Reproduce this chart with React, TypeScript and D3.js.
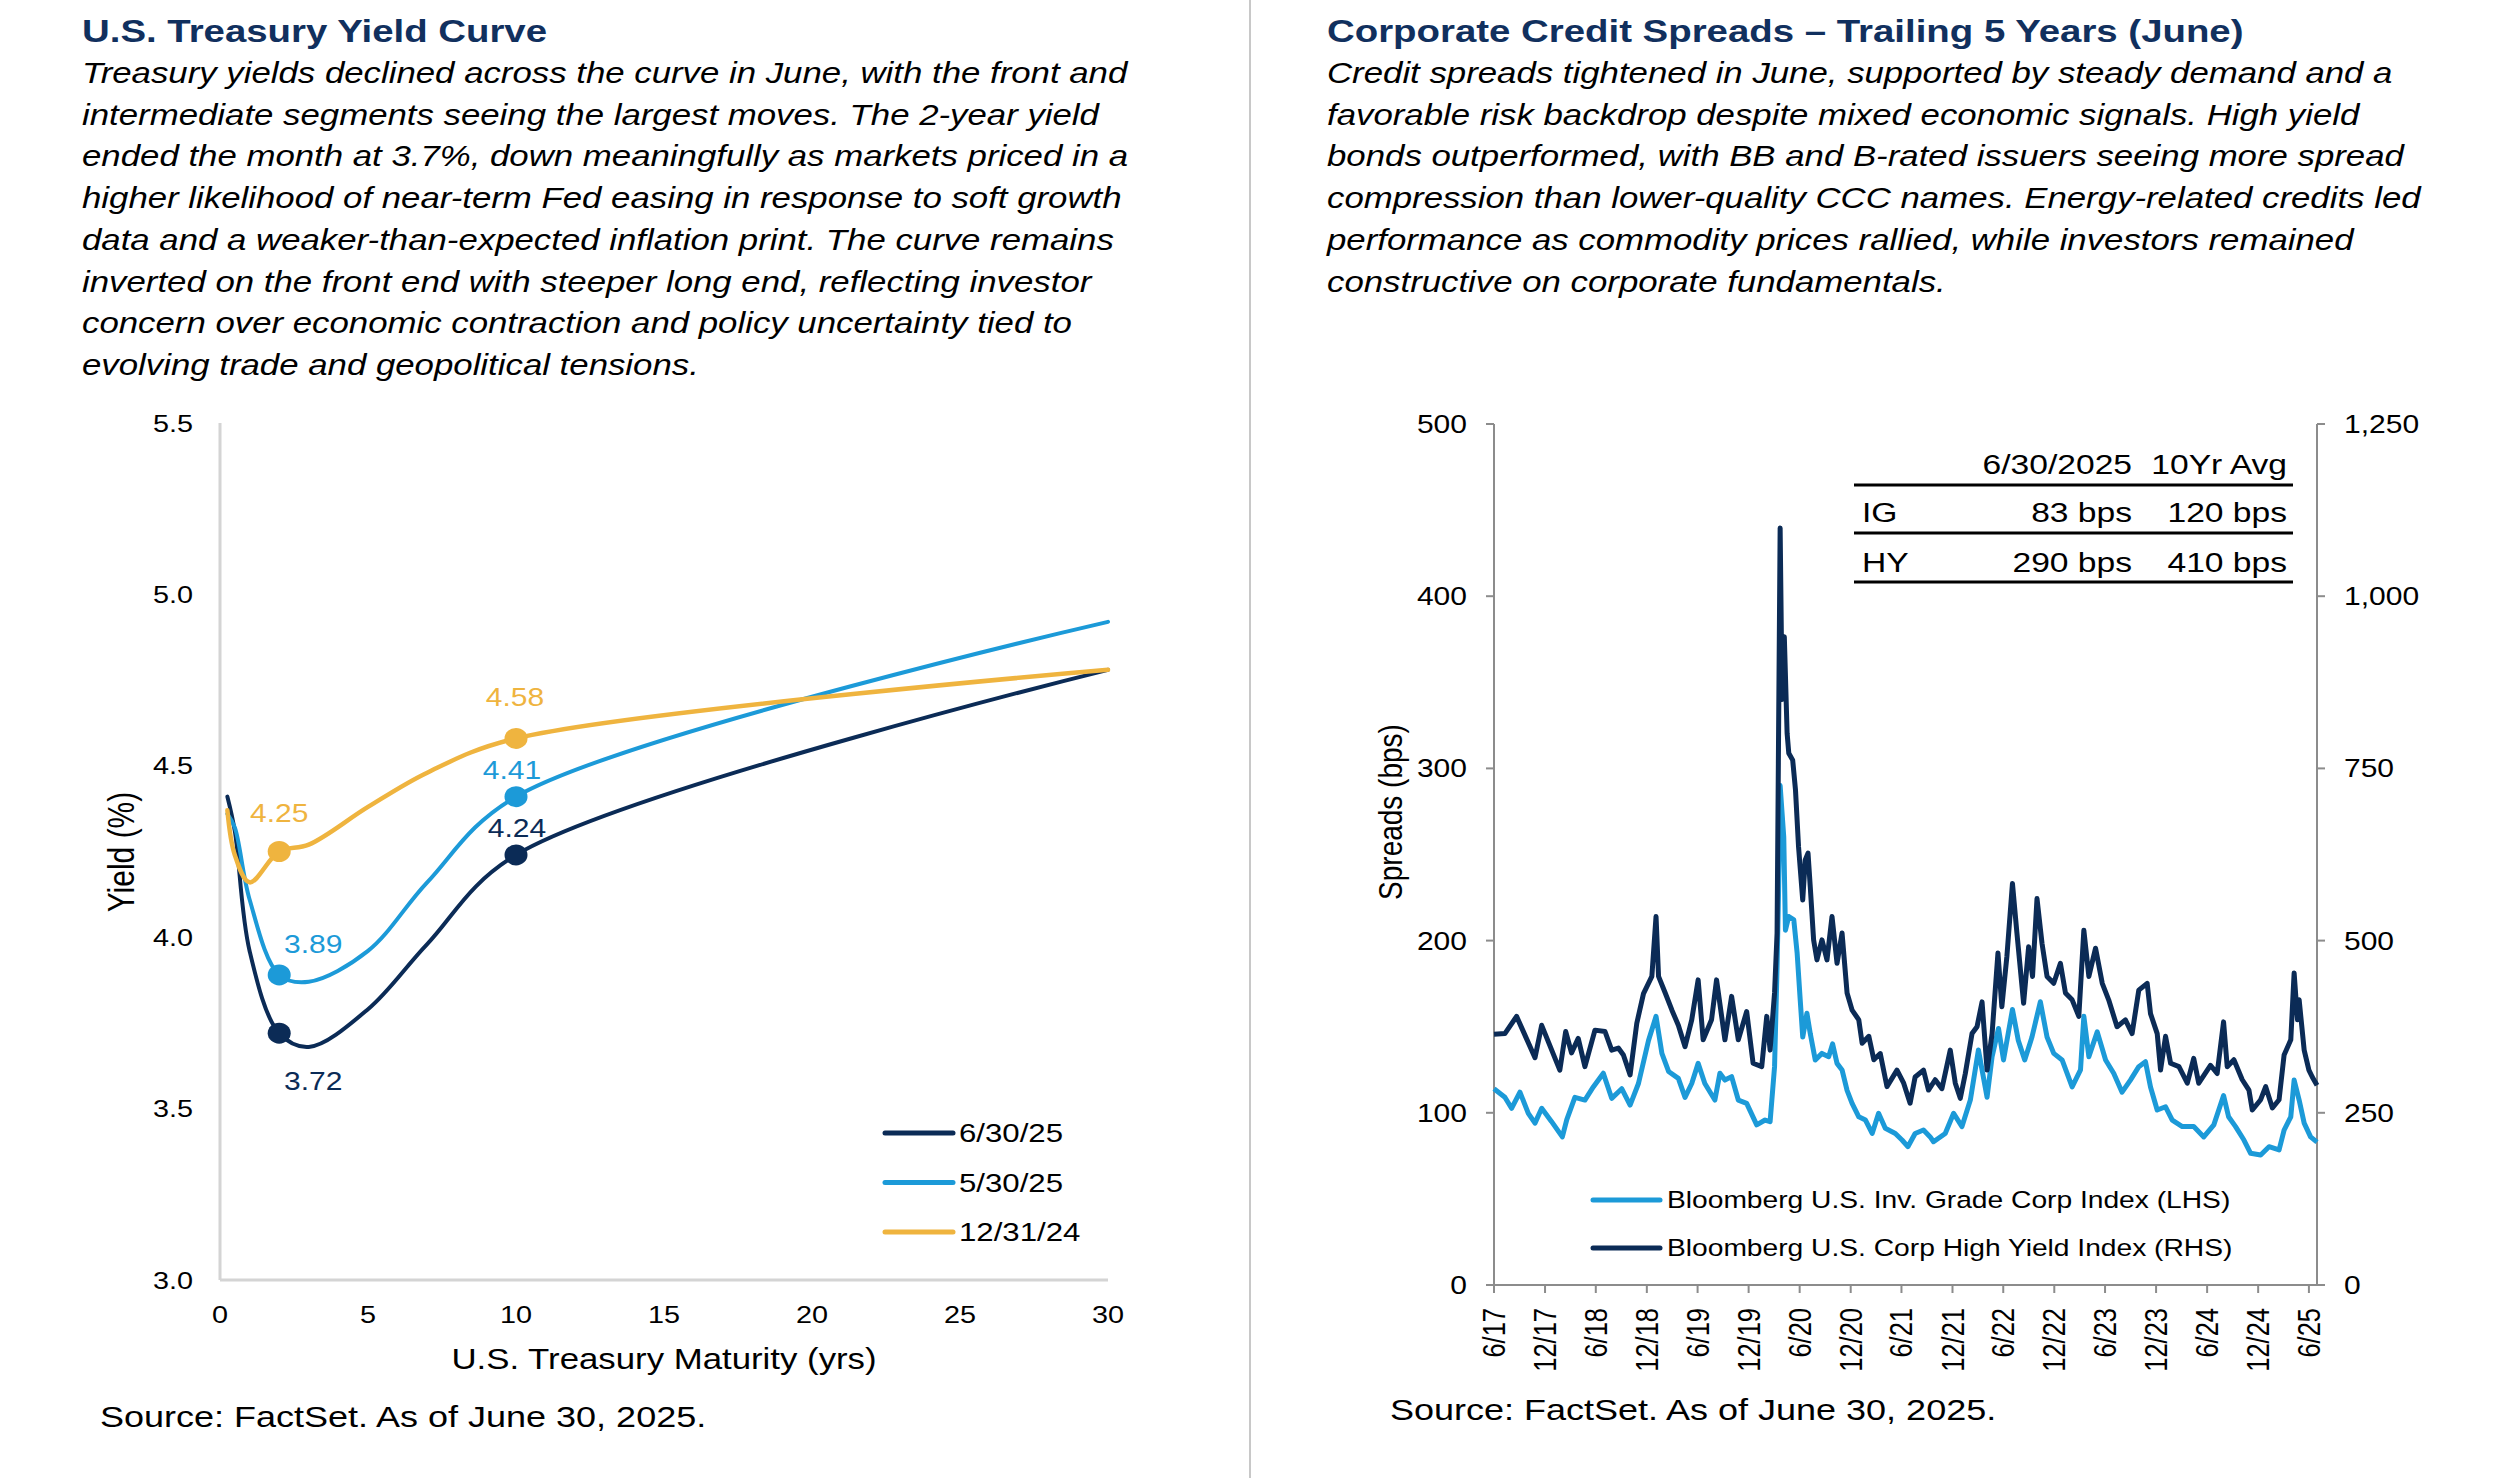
import { useEffect } from 'react';
import * as d3 from 'd3';

// ---- yield curve data (left panel) ----
const maturities = [0.25, 0.5, 1, 2, 3, 5, 7, 10, 30];
const yieldJun25 = [4.41, 4.31, 3.96, 3.72, 3.68, 3.79, 3.98, 4.24, 4.78];
const yieldMay25 = [4.36, 4.32, 4.11, 3.89, 3.87, 3.96, 4.16, 4.41, 4.92];
const yieldDec24 = [4.37, 4.24, 4.16, 4.25, 4.27, 4.38, 4.48, 4.58, 4.78];
const labelledMaturities = [2, 10];
const yieldTicks = [3.0, 3.5, 4.0, 4.5, 5.0, 5.5];
const maturityTicks = [0, 5, 10, 15, 20, 25, 30];

// ---- credit spread data (right panel) ----
const igSpread: [string, number][] = [
  ['2017-06-01', 114], ['2017-07-10', 109], ['2017-08-03', 102.6], ['2017-09-02', 112],
  ['2017-10-02', 99.7], ['2017-10-26', 94], ['2017-11-19', 102.6], ['2017-12-24', 95],
  ['2018-02-01', 86], ['2018-02-17', 96], ['2018-03-18', 109], ['2018-04-23', 107.4],
  ['2018-05-23', 115], ['2018-06-28', 123], ['2018-07-28', 108.4], ['2018-09-02', 114],
  ['2018-10-02', 104.5], ['2018-11-01', 117], ['2018-12-07', 142], ['2019-01-03', 156],
  ['2019-01-24', 134.5], ['2019-02-17', 124], ['2019-03-24', 120], ['2019-04-17', 109],
  ['2019-05-11', 117], ['2019-06-03', 128.7], ['2019-06-27', 117], ['2019-08-02', 107.4],
  ['2019-08-20', 123], ['2019-09-07', 119], ['2019-10-01', 121], ['2019-10-25', 107.4],
  ['2019-11-24', 105.5], ['2019-12-30', 93], ['2020-01-29', 95.8], ['2020-02-16', 94.8],
  ['2020-03-03', 126.8], ['2020-03-12', 185], ['2020-03-20', 250], ['2020-03-23', 290],
  ['2020-04-05', 260], ['2020-04-11', 206], ['2020-04-23', 214], ['2020-05-11', 212],
  ['2020-05-23', 192.6], ['2020-06-03', 165.5], ['2020-06-12', 144], ['2020-06-27', 157.8],
  ['2020-07-09', 146], ['2020-07-27', 130.7], ['2020-08-20', 134.5], ['2020-09-13', 132.6],
  ['2020-09-27', 140], ['2020-10-13', 128.7], ['2020-10-31', 124.9], ['2020-11-18', 113],
  ['2020-12-06', 105.5], ['2020-12-30', 97.7], ['2021-01-23', 95.8], ['2021-02-16', 88],
  ['2021-03-11', 99.7], ['2021-04-04', 91], ['2021-05-10', 88], ['2021-06-03', 84.2],
  ['2021-06-24', 80.3], ['2021-07-20', 88], ['2021-08-19', 90], ['2021-09-12', 86],
  ['2021-09-24', 83.2], ['2021-11-05', 88], ['2021-12-05', 99.7], ['2022-01-04', 92],
  ['2022-02-03', 107.4], ['2022-03-04', 136.5], ['2022-04-04', 109], ['2022-04-22', 132.6],
  ['2022-05-15', 149], ['2022-06-02', 130.7], ['2022-07-04', 160], ['2022-07-25', 142],
  ['2022-08-17', 130.7], ['2022-09-12', 144], ['2022-10-12', 164.5], ['2022-11-05', 144],
  ['2022-11-29', 134.5], ['2022-12-29', 130.7], ['2023-02-03', 115], ['2023-03-05', 124.9],
  ['2023-03-17', 156], ['2023-04-04', 132.6], ['2023-05-04', 147], ['2023-06-03', 130.7],
  ['2023-07-02', 123], ['2023-08-01', 112], ['2023-08-31', 119], ['2023-09-30', 126.8],
  ['2023-10-24', 129.7], ['2023-11-11', 115], ['2023-12-05', 101.6], ['2024-01-04', 103.5],
  ['2024-01-28', 95.8], ['2024-03-04', 92], ['2024-04-14', 92], ['2024-05-20', 86],
  ['2024-06-25', 93], ['2024-07-30', 110], ['2024-08-17', 97.7], ['2024-09-11', 92],
  ['2024-10-11', 84.2], ['2024-11-04', 76.5], ['2024-12-10', 75.5], ['2025-01-09', 80.3],
  ['2025-02-14', 78.4], ['2025-03-04', 90], ['2025-03-28', 97.7], ['2025-04-09', 119],
  ['2025-04-27', 107.4], ['2025-05-15', 94], ['2025-06-07', 86], ['2025-06-30', 83],
];

const hySpread: [string, number][] = [
  ['2017-06-01', 364], ['2017-07-10', 365], ['2017-08-21', 390], ['2017-10-26', 330],
  ['2017-11-19', 377], ['2018-01-23', 312], ['2018-02-13', 368], ['2018-03-06', 337],
  ['2018-03-30', 358], ['2018-04-23', 317], ['2018-05-29', 370], ['2018-07-04', 368],
  ['2018-07-28', 341], ['2018-08-21', 344], ['2018-09-08', 334], ['2018-10-02', 305],
  ['2018-10-26', 380], ['2018-11-19', 423], ['2018-12-19', 448], ['2019-01-03', 535],
  ['2019-01-12', 448], ['2019-02-05', 424], ['2019-03-01', 399], ['2019-03-24', 377],
  ['2019-04-17', 346], ['2019-05-11', 385], ['2019-06-03', 443], ['2019-06-21', 356],
  ['2019-07-21', 385], ['2019-08-08', 443], ['2019-09-07', 356], ['2019-10-01', 419],
  ['2019-10-25', 356], ['2019-11-24', 397], ['2019-12-17', 322], ['2020-01-17', 317],
  ['2020-02-04', 390], ['2020-02-16', 341], ['2020-03-03', 424], ['2020-03-12', 511],
  ['2020-03-23', 1099], ['2020-03-30', 850], ['2020-04-07', 941], ['2020-04-17', 801],
  ['2020-04-23', 772], ['2020-05-07', 762], ['2020-05-17', 719], ['2020-05-28', 636],
  ['2020-06-12', 559], ['2020-06-21', 617], ['2020-07-01', 627], ['2020-07-09', 578],
  ['2020-07-21', 501], ['2020-08-02', 472], ['2020-08-20', 501], ['2020-09-07', 472],
  ['2020-09-25', 535], ['2020-10-13', 467], ['2020-10-31', 511], ['2020-11-18', 424],
  ['2020-12-06', 399], ['2020-12-30', 385], ['2021-01-11', 351], ['2021-02-04', 361],
  ['2021-02-22', 327], ['2021-03-17', 336], ['2021-04-10', 288], ['2021-05-16', 312],
  ['2021-06-09', 293], ['2021-07-02', 264], ['2021-07-20', 302], ['2021-08-19', 312],
  ['2021-09-06', 283], ['2021-09-30', 298], ['2021-10-24', 285], ['2021-11-23', 341],
  ['2021-12-11', 293], ['2021-12-29', 271], ['2022-01-16', 307], ['2022-02-09', 365],
  ['2022-02-27', 375], ['2022-03-17', 411], ['2022-04-04', 312], ['2022-04-22', 365],
  ['2022-05-13', 482], ['2022-05-27', 404], ['2022-06-14', 477], ['2022-07-04', 583],
  ['2022-07-20', 511], ['2022-08-13', 409], ['2022-08-31', 491], ['2022-09-14', 448],
  ['2022-09-30', 561], ['2022-10-18', 496], ['2022-11-05', 448], ['2022-11-29', 438],
  ['2022-12-23', 467], ['2023-01-10', 424], ['2023-02-03', 414], ['2023-02-27', 390],
  ['2023-03-17', 515], ['2023-04-04', 448], ['2023-04-28', 489], ['2023-05-22', 438],
  ['2023-06-14', 414], ['2023-07-14', 375], ['2023-08-13', 385], ['2023-09-06', 365],
  ['2023-09-30', 428], ['2023-10-30', 438], ['2023-11-11', 394], ['2023-12-05', 365],
  ['2023-12-17', 312], ['2024-01-04', 361], ['2024-01-22', 322], ['2024-02-21', 317],
  ['2024-03-22', 293], ['2024-04-14', 329], ['2024-05-02', 293], ['2024-06-13', 319],
  ['2024-07-07', 307], ['2024-07-30', 382], ['2024-08-12', 317], ['2024-09-05', 327],
  ['2024-10-05', 298], ['2024-10-29', 283], ['2024-11-10', 254], ['2024-12-10', 269],
  ['2024-12-28', 288], ['2025-01-21', 257], ['2025-02-14', 269], ['2025-03-04', 334],
  ['2025-03-28', 356], ['2025-04-09', 453], ['2025-04-21', 385], ['2025-04-27', 414],
  ['2025-05-15', 341], ['2025-06-01', 312], ['2025-06-13', 302], ['2025-06-30', 290],
];

const dateTicks = [
  '2017-06-01', '2017-12-01', '2018-06-01', '2018-12-01', '2019-06-01', '2019-12-01',
  '2020-06-01', '2020-12-01', '2021-06-01', '2021-12-01', '2022-06-01', '2022-12-01',
  '2023-06-01', '2023-12-01', '2024-06-01', '2024-12-01', '2025-06-01',
];
const spreadTicksL = [0, 100, 200, 300, 400, 500];
const spreadTicksR = [0, 250, 500, 750, 1000, 1250];
const tableHeader = ['6/30/2025', '10Yr Avg'];
const tableRows = [
  ['IG', '83 bps', '120 bps'],
  ['HY', '290 bps', '410 bps'],
];

const leftText = [
  'Treasury yields declined across the curve in June, with the front and',
  'intermediate segments seeing the largest moves. The 2-year yield',
  'ended the month at 3.7%, down meaningfully as markets priced in a',
  'higher likelihood of near-term Fed easing in response to soft growth',
  'data and a weaker-than-expected inflation print. The curve remains',
  'inverted on the front end with steeper long end, reflecting investor',
  'concern over economic contraction and policy uncertainty tied to',
  'evolving trade and geopolitical tensions.',
];
const rightText = [
  'Credit spreads tightened in June, supported by steady demand and a',
  'favorable risk backdrop despite mixed economic signals. High yield',
  'bonds outperformed, with BB and B-rated issuers seeing more spread',
  'compression than lower-quality CCC names. Energy-related credits led',
  'performance as commodity prices rallied, while investors remained',
  'constructive on corporate fundamentals.',
];

const NAVY = '#0b2b56';
const BLUE = '#1c9ad8';
const GOLD = '#efb43f';
const TITLE = '#11305e';
const FONT = "Arial, 'Liberation Sans', Helvetica, sans-serif";
const SX = 1.2; // glyphs in the source are a little wide

type TProps = {
  x: number;
  y: number;
  size: number;
  children: React.ReactNode;
  anchor?: 'start' | 'middle' | 'end';
  fill?: string;
  weight?: string;
  italic?: boolean;
  rotate?: number;
  dy?: string;
};

const T = ({ x, y, size, children, anchor = 'start', fill = '#000', weight, italic, rotate, dy }: TProps) => (
  <text
    transform={`translate(${x},${y}) scale(${SX},1)${rotate ? ` rotate(${rotate})` : ''}`}
    fontSize={size}
    fontFamily={FONT}
    textAnchor={anchor}
    fill={fill}
    fontWeight={weight}
    fontStyle={italic ? 'italic' : undefined}
    dy={dy}
  >
    {children}
  </text>
);

const parseDate = d3.utcParse('%Y-%m-%d');
const fmtTick = (d: Date) => `${d.getUTCMonth() + 1}/${d3.utcFormat('%y')(d)}`;

const YieldCurve = () => {
  const x = d3.scaleLinear().domain([0, 30]).range([220, 1108]);
  const y = d3.scaleLinear().domain([3, 5.5]).range([1280, 423]);
  const line = d3
    .line<number>()
    .x((_, i) => x(maturities[i]))
    .y(v => y(v))
    .curve(d3.curveCatmullRom.alpha(0.5));

  const series = [
    { name: '6/30/25', values: yieldJun25, color: NAVY, width: 4 },
    { name: '5/30/25', values: yieldMay25, color: BLUE, width: 4 },
    { name: '12/31/24', values: yieldDec24, color: GOLD, width: 4.5 },
  ];
  // label offsets for the 2Y and 10Y markers
  const offsets: Record<string, [number, number][]> = {
    '6/30/25': [[34, 57], [1, -18]],
    '5/30/25': [[34, -22], [-4, -18]],
    '12/31/24': [[0, -30], [-1, -32]],
  };

  return (
    <g>
      <T x={82} y={42} size={32} weight="bold" fill={TITLE}>U.S. Treasury Yield Curve</T>
      {leftText.map((t, i) => (
        <T key={i} x={82} y={83 + i * 41.7} size={29} italic>{t}</T>
      ))}

      <line x1={x(0)} x2={x(0)} y1={y(5.5)} y2={y(3)} stroke="#d4d4d4" strokeWidth={3} />
      <line x1={x(0)} x2={x(30)} y1={y(3)} y2={y(3)} stroke="#d4d4d4" strokeWidth={3} />
      {yieldTicks.map(t => (
        <T key={t} x={193} y={y(t)} size={24} anchor="end" dy="0.36em">{d3.format('.1f')(t)}</T>
      ))}
      {maturityTicks.map(t => (
        <T key={t} x={x(t)} y={1323} size={24} anchor="middle">{t}</T>
      ))}
      <T x={664} y={1369} size={29} anchor="middle">U.S. Treasury Maturity (yrs)</T>
      <T x={134} y={852} size={30} anchor="middle" rotate={-90}>Yield (%)</T>

      {series.map(s => (
        <path key={s.name} d={line(s.values) ?? ''} fill="none" stroke={s.color}
          strokeWidth={s.width} strokeLinejoin="round" strokeLinecap="round" />
      ))}
      {series.map(s =>
        labelledMaturities.map((m, k) => {
          const v = s.values[maturities.indexOf(m)];
          const [dx, dy] = offsets[s.name][k];
          return (
            <g key={`${s.name}-${m}`}>
              <ellipse cx={x(m)} cy={y(v)} rx={11.5} ry={10.5} fill={s.color} />
              <T x={x(m) + dx} y={y(v) + dy} size={25} anchor="middle" fill={s.color}>{v.toFixed(2)}</T>
            </g>
          );
        }),
      )}

      {series.map((s, i) => (
        <g key={s.name}>
          <line x1={885} x2={953} y1={1133 + i * 49.5} y2={1133 + i * 49.5} stroke={s.color} strokeWidth={5} strokeLinecap="round" />
          <T x={959} y={1133 + i * 49.5} size={26} dy="0.36em">{s.name}</T>
        </g>
      ))}

      <T x={100} y={1427} size={30}>Source: FactSet. As of June 30, 2025.</T>
    </g>
  );
};

const CreditSpreads = () => {
  const x = d3.scaleUtc().domain([parseDate('2017-06-01')!, parseDate('2025-06-30')!]).range([1494, 2317]);
  const yL = d3.scaleLinear().domain([0, 500]).range([1285, 424]);
  const yR = d3.scaleLinear().domain([0, 1250]).range([1285, 424]);
  const lineL = d3.line<[string, number]>().x(d => x(parseDate(d[0])!)).y(d => yL(d[1]));
  const lineR = d3.line<[string, number]>().x(d => x(parseDate(d[0])!)).y(d => yR(d[1]));
  const axisColor = '#8c8c8c';
  const legend = [
    { name: 'Bloomberg U.S. Inv. Grade Corp Index (LHS)', color: BLUE },
    { name: 'Bloomberg U.S. Corp High Yield Index (RHS)', color: NAVY },
  ];

  return (
    <g>
      <T x={1327} y={42} size={32} weight="bold" fill={TITLE}>Corporate Credit Spreads – Trailing 5 Years (June)</T>
      {rightText.map((t, i) => (
        <T key={i} x={1327} y={83 + i * 41.7} size={29} italic>{t}</T>
      ))}

      {/* axes */}
      <line x1={1494} x2={1494} y1={yL(500)} y2={yL(0)} stroke={axisColor} strokeWidth={2} />
      <line x1={2317} x2={2317} y1={yR(1250)} y2={yR(0)} stroke={axisColor} strokeWidth={2} />
      <line x1={1494} x2={2317} y1={yL(0)} y2={yL(0)} stroke={axisColor} strokeWidth={2} />
      {spreadTicksL.map(t => (
        <g key={t}>
          <line x1={1486} x2={1494} y1={yL(t)} y2={yL(t)} stroke={axisColor} strokeWidth={2} />
          <T x={1467} y={yL(t)} size={25} anchor="end" dy="0.36em">{t}</T>
        </g>
      ))}
      {spreadTicksR.map(t => (
        <g key={t}>
          <line x1={2317} x2={2325} y1={yR(t)} y2={yR(t)} stroke={axisColor} strokeWidth={2} />
          <T x={2344} y={yR(t)} size={25} dy="0.36em">{d3.format(',')(t)}</T>
        </g>
      ))}
      {dateTicks.map(s => {
        const d = parseDate(s)!;
        return (
          <g key={s}>
            <line x1={x(d)} x2={x(d)} y1={yL(0)} y2={yL(0) + 8} stroke={axisColor} strokeWidth={2} />
            <T x={x(d)} y={1308} size={25.5} anchor="end" rotate={-90} dy="0.36em">{fmtTick(d)}</T>
          </g>
        );
      })}
      <T x={1402} y={812} size={28} anchor="middle" rotate={-90}>Spreads (bps)</T>

      <path d={lineL(igSpread) ?? ''} fill="none" stroke={BLUE} strokeWidth={5} strokeLinejoin="round" />
      <path d={lineR(hySpread) ?? ''} fill="none" stroke={NAVY} strokeWidth={5} strokeLinejoin="round" />

      {/* summary table */}
      <T x={2132} y={474} size={28} anchor="end">{tableHeader[0]}</T>
      <T x={2287} y={474} size={28} anchor="end">{tableHeader[1]}</T>
      <line x1={1854} x2={2293} y1={485} y2={485} stroke="#000" strokeWidth={3} />
      {tableRows.map((r, i) => (
        <g key={r[0]}>
          <T x={1862} y={522 + i * 49.5} size={28}>{r[0]}</T>
          <T x={2132} y={522 + i * 49.5} size={28} anchor="end">{r[1]}</T>
          <T x={2287} y={522 + i * 49.5} size={28} anchor="end">{r[2]}</T>
          <line x1={1854} x2={2293} y1={533 + i * 49} y2={533 + i * 49} stroke="#000" strokeWidth={3} />
        </g>
      ))}

      {legend.map((l, i) => (
        <g key={l.name}>
          <line x1={1593} x2={1660} y1={1200 + i * 48} y2={1200 + i * 48} stroke={l.color} strokeWidth={5} strokeLinecap="round" />
          <T x={1667} y={1200 + i * 48} size={23.5} dy="0.36em">{l.name}</T>
        </g>
      ))}

      <T x={1390} y={1420} size={30}>Source: FactSet. As of June 30, 2025.</T>
    </g>
  );
};

const App = () => {
  useEffect(() => {
    document.body.style.margin = '0';
  }, []);
  return (
    <svg width={2500} height={1478} viewBox="0 0 2500 1478" style={{ display: 'block', background: '#fff' }}>
      <rect width={2500} height={1478} fill="#fff" />
      <line x1={1250} x2={1250} y1={0} y2={1478} stroke="#c8c8c8" strokeWidth={2} />
      <YieldCurve />
      <CreditSpreads />
    </svg>
  );
};

export default App;
